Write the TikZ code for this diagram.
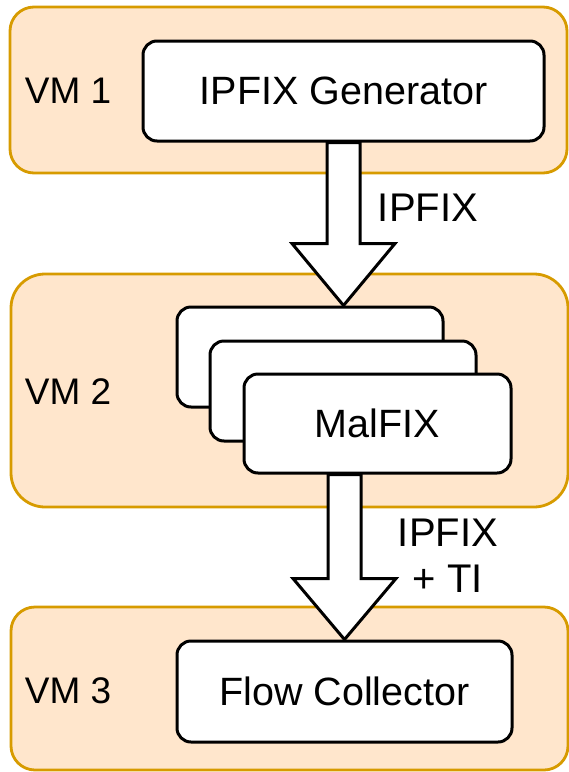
\documentclass[tikz,border=0pt]{standalone}
\usepackage{fontspec}
\setmainfont{Liberation Sans}
\usetikzlibrary{calc}
\definecolor{vmfill}{HTML}{FFE6CC}
\definecolor{vmdraw}{HTML}{D79B00}
\begin{document}
\begin{tikzpicture}[x=1pt,y=-1pt,
  vmbox/.style={draw=vmdraw,fill=vmfill,line width=2.8pt,rounded corners=24pt,inner sep=0pt},
  procbox/.style={draw=black,fill=white,line width=3pt,rounded corners=14pt,inner sep=0pt,
    font=\fontsize{39.5}{44}\selectfont},
  vmlabel/.style={font=\fontsize{37}{44}\selectfont,inner sep=0pt},
  flowlabel/.style={font=\fontsize{40}{46}\selectfont,inner sep=0pt,align=center},
  blockarrow/.style={draw=black,fill=white,line width=3pt,line join=miter}
]
\useasboundingbox (0,0) rectangle (569,772);
% VM containers
\node[vmbox,minimum width=557pt,minimum height=166pt] (vm1) at (288.5,90) {};
\node[vmbox,minimum width=557pt,minimum height=233pt,rounded corners=34pt] (vm2) at (289.5,390.5) {};
\node[vmbox,minimum width=557pt,minimum height=163pt] (vm3) at (289.5,688.5) {};
% VM labels
\node[vmlabel] (l1) at (68,91) {VM 1};
\node[vmlabel] (l2) at (68,392) {VM 2};
\node[vmlabel] (l3) at (68,691) {VM 3};
% process boxes
\node[procbox,minimum width=401pt,minimum height=100pt] (gen) at (343.5,91) {IPFIX Generator};
\node[procbox,minimum width=266pt,minimum height=100pt] (back1) at (310,357) {};
\node[procbox,minimum width=266pt,minimum height=100pt] (back2) at (343,391) {};
\node[procbox,minimum width=267pt,minimum height=99pt] (mal) at (377.5,423.5) {MalFIX};
\node[procbox,minimum width=335pt,minimum height=101pt] (fc) at (344.5,691.5) {Flow Collector};
% arrows
\coordinate (a1s) at (gen.south);
\coordinate (a1t) at (gen.south |- back1.north);
\draw[blockarrow] ($(a1s)+(-16.5,0)$) -- ($(a1t)+(-16.5,-62)$) -- ($(a1t)+(-51.5,-62)$) -- (a1t)
  -- ($(a1t)+(51.5,-62)$) -- ($(a1t)+(16.5,-62)$) -- ($(a1s)+(16.5,0)$) -- cycle;
\coordinate (a2s) at (fc.north |- mal.south);
\coordinate (a2t) at (fc.north);
\draw[blockarrow] ($(a2s)+(-16.5,0)$) -- ($(a2t)+(-16.5,-61)$) -- ($(a2t)+(-51.5,-61)$) -- (a2t)
  -- ($(a2t)+(51.5,-61)$) -- ($(a2t)+(16.5,-61)$) -- ($(a2s)+(16.5,0)$) -- cycle;
% arrow labels
\node[flowlabel] (f1) at (428,208) {IPFIX};
\node[flowlabel] (f2) at (448,556) {IPFIX\\+ TI};
\end{tikzpicture}
\end{document}
